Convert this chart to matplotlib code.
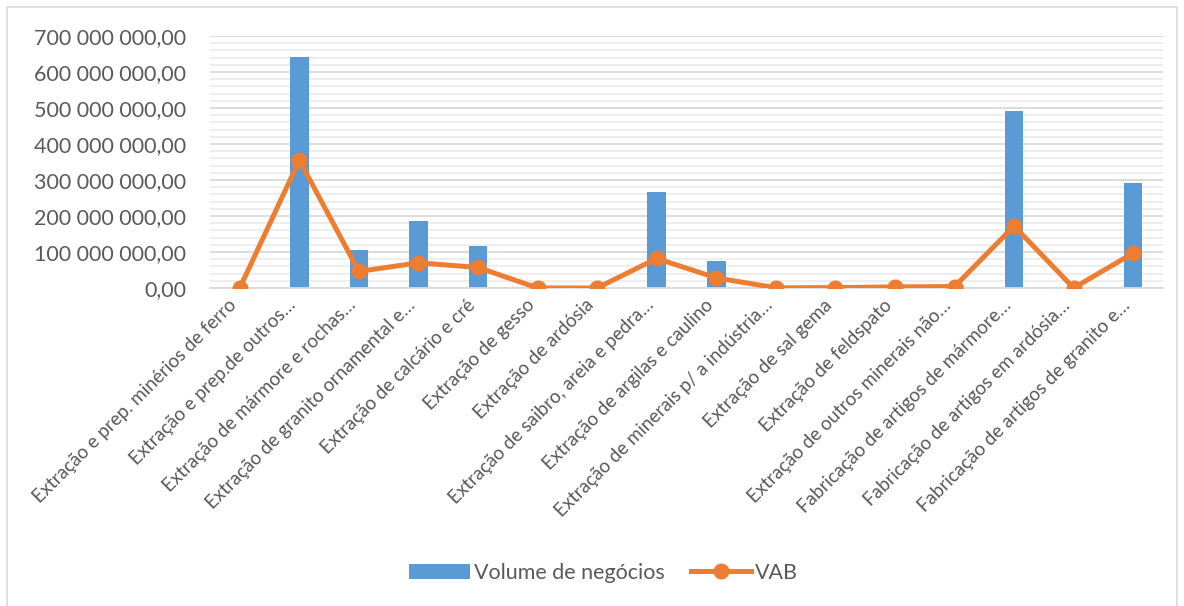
import matplotlib.pyplot as plt
import matplotlib.transforms as mtransforms
from matplotlib.ticker import FuncFormatter, MultipleLocator
from matplotlib.patches import Rectangle
import numpy as np

categorias = [
    "Extração e prep. minérios de ferro",
    "Extração e prep.de outros…",
    "Extração de mármore e rochas…",
    "Extração de granito ornamental e…",
    "Extração de calcário e cré",
    "Extração de gesso",
    "Extração de ardósia",
    "Extração de saibro, areia e pedra…",
    "Extração de argilas e caulino",
    "Extração de minerais p/ a indústria…",
    "Extração de sal gema",
    "Extração de feldspato",
    "Extração de outros minerais não…",
    "Fabricação de artigos de mármore…",
    "Fabricação de artigos em ardósia…",
    "Fabricação de artigos de granito e…",
]

volume_negocios = [0, 642e6, 106e6, 186e6, 117e6, 0, 0, 267e6,
                   75e6, 1e6, 1e6, 2e6, 5e6, 492e6, 0, 293e6]
vab = [0, 355e6, 46e6, 70e6, 57e6, 0, 0, 82e6,
       28e6, 0.5e6, 1e6, 3e6, 4e6, 172e6, 0, 97e6]

AZUL = "#5B9BD5"
LARANJA = "#ED7D31"
CINZA = "#595959"

plt.rcParams['font.family'] = ['Lato', 'DejaVu Sans']

fig = plt.figure(figsize=(11.84, 6.06), dpi=100)
ax = fig.add_axes([210/1184, 1-288/606, (1163-210)/1184, (288-36)/606])

# moldura da área do gráfico
fig.patches.append(Rectangle((7/1184, -0.05), (1177-7)/1184, 1.05-7/606,
                             transform=fig.transFigure, fill=False,
                             edgecolor="#D9D9D9", linewidth=1.2))

x = np.arange(len(categorias))
barras = ax.bar(x, volume_negocios, width=0.31, color=AZUL, zorder=2)
linha, = ax.plot(x, vab, color=LARANJA, linewidth=3.6, marker='o', markersize=10.5,
                 zorder=3)

ax.set_xlim(-0.5, len(categorias) - 0.5)
ax.set_ylim(0, 700e6)
ax.yaxis.set_major_locator(MultipleLocator(100e6))
ax.yaxis.set_minor_locator(MultipleLocator(20e6))
ax.yaxis.set_major_formatter(FuncFormatter(
    lambda v, p: "{:,.2f}".format(v).replace(",", " ").replace(".", ",")))

ax.grid(axis='y', which='major', color="#D9D9D9", linewidth=1.3, zorder=0)
ax.grid(axis='y', which='minor', color="#EDEDED", linewidth=1.3, zorder=0)
ax.set_axisbelow(True)

for s in ['top', 'right', 'left']:
    ax.spines[s].set_visible(False)
ax.spines['bottom'].set_color("#D9D9D9")
ax.spines['bottom'].set_linewidth(1.3)

ax.tick_params(axis='y', which='both', length=0, pad=17, labelsize=15.5, labelcolor=CINZA)
ax.tick_params(axis='x', length=0, pad=6, labelsize=13.5, labelcolor=CINZA)
ax.set_xticks(x)
ax.set_xticklabels(categorias, rotation=45, ha='right', va='top', rotation_mode='anchor')

# rótulos do eixo x ligeiramente para a esquerda da marca
desloc = mtransforms.ScaledTranslation(-12/100, 0, fig.dpi_scale_trans)
for lbl in ax.get_xticklabels():
    lbl.set_transform(lbl.get_transform() + desloc)

fig.legend([barras, linha], ["Volume de negócios", "VAB"],
           loc='center', bbox_to_anchor=(0.51, 1-573/606), ncol=2, frameon=False,
           fontsize=15.5, labelcolor=CINZA, handlelength=2.8, columnspacing=1.2,
           handletextpad=0.2)

fig.savefig("out.png", dpi=100)
